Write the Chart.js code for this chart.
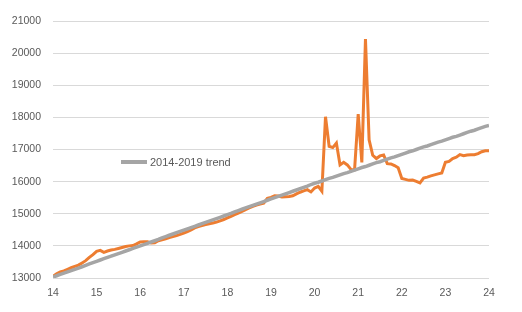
<!DOCTYPE html>
<html>
<head>
    <title>Trend chart</title>
    <script src="https://cdn.jsdelivr.net/npm/chart.js"></script>
    <style>
        body {
            margin: 0;
            background-color: #ffffff;
        }

        #wrap {
            position: relative;
            width: 522px;
            height: 312px;
        }

        #legend {
            position: absolute;
            left: 121px;
            top: 156px;
            font-family: "Liberation Sans", Arial, sans-serif;
            font-size: 11px;
            color: #595959;
            white-space: nowrap;
        }

        #legend span.swatch {
            display: inline-block;
            width: 26px;
            height: 4px;
            background-color: #a5a5a5;
            vertical-align: middle;
            margin-right: 3px;
            position: relative;
            top: -1px;
        }
    </style>
</head>
<body>
    <div id="wrap">
        <canvas id="lineChart" width="522" height="312"></canvas>
        <div id="legend"><span class="swatch"></span>2014-2019 trend</div>
    </div>

    <script>
        // monthly observations, Jan 2014 .. Jan 2024 (x axis shows year 14..24)
        const firstYear = 14;
        const lastYear = 24;

        const actual = [
            13050, 13130, 13190, 13220, 13270, 13320, 13360, 13400, 13470, 13540, 13640, 13730, // 2014
            13830, 13860, 13800, 13840, 13870, 13890, 13920, 13950, 13980, 14000, 14010, 14060, // 2015
            14120, 14130, 14130, 14090, 14100, 14160, 14190, 14220, 14260, 14290, 14320, 14360, // 2016
            14400, 14440, 14500, 14560, 14600, 14630, 14660, 14690, 14710, 14740, 14780, 14820, // 2017
            14870, 14920, 14970, 15020, 15070, 15130, 15180, 15230, 15270, 15300, 15330, 15480, // 2018
            15510, 15560, 15550, 15520, 15530, 15540, 15560, 15620, 15670, 15710, 15750, 15680, // 2019
            15800, 15850, 15700, 18020, 17100, 17060, 17200, 16520, 16600, 16520, 16380, 16370, // 2020
            18100, 16600, 20440, 17300, 16820, 16720, 16800, 16830, 16560, 16550, 16500, 16430, // 2021
            16100, 16070, 16040, 16050, 16010, 15960, 16110, 16140, 16180, 16210, 16240, 16270, // 2022
            16600, 16630, 16720, 16760, 16840, 16810, 16830, 16840, 16840, 16870, 16930, 16960, // 2023
            16960                                                                                // 2024
        ];

        const trend = [
            13030, 13070, 13110, 13150, 13190, 13230, 13270, 13310, 13350, 13390, 13440, 13480,
            13520, 13560, 13600, 13640, 13680, 13720, 13760, 13800, 13840, 13880, 13920, 13960,
            14000, 14040, 14080, 14120, 14160, 14200, 14250, 14290, 14330, 14370, 14410, 14450,
            14490, 14530, 14570, 14610, 14650, 14690, 14730, 14770, 14810, 14850, 14890, 14930,
            14970, 15010, 15060, 15100, 15140, 15180, 15220, 15260, 15300, 15340, 15380, 15420,
            15460, 15500, 15540, 15580, 15620, 15660, 15700, 15740, 15780, 15820, 15860, 15910,
            15950, 15980, 16020, 16060, 16100, 16130, 16170, 16210, 16250, 16280, 16320, 16360,
            16400, 16440, 16470, 16510, 16550, 16590, 16620, 16660, 16700, 16740, 16770, 16810,
            16850, 16890, 16930, 16960, 17000, 17040, 17080, 17110, 17150, 17190, 17230, 17260,
            17300, 17340, 17380, 17410, 17450, 17490, 17530, 17570, 17600, 17640, 17680, 17720,
            17750
        ];

        const yMin = 13000;
        const yMax = 21000;

        // x position of each monthly value, in years
        function toPoints(values) {
            return values.map((v, i) => ({ x: firstYear + i / 12, y: v }));
        }

        const tickFont = { family: '"Liberation Sans", Arial, sans-serif', size: 10.5 };

        const ctx = document.getElementById('lineChart').getContext('2d');
        new Chart(ctx, {
            type: 'line',
            data: {
                datasets: [{
                    label: 'Actual',
                    data: toPoints(actual),
                    borderColor: '#ed7d31',
                    borderWidth: 3,
                    pointRadius: 0,
                    tension: 0,
                    order: 2
                }, {
                    label: '2014-2019 trend',
                    data: toPoints(trend),
                    borderColor: '#a5a5a5',
                    borderWidth: 3.5,
                    pointRadius: 0,
                    tension: 0,
                    order: 1
                }]
            },
            options: {
                responsive: false,
                animation: false,
                devicePixelRatio: 1,
                layout: {
                    padding: { left: 0, right: 33, top: 21, bottom: 0 }
                },
                plugins: {
                    legend: { display: false },
                    tooltip: { enabled: false }
                },
                scales: {
                    x: {
                        type: 'linear',
                        min: firstYear,
                        max: lastYear,
                        ticks: {
                            stepSize: 1,
                            color: '#595959',
                            font: tickFont,
                            padding: 9,
                            maxRotation: 0
                        },
                        grid: { display: false, drawTicks: false },
                        border: { display: false },
                        afterFit: scale => { scale.height = 34; }
                    },
                    y: {
                        min: yMin,
                        max: yMax,
                        ticks: {
                            stepSize: 1000,
                            color: '#595959',
                            font: tickFont,
                            padding: 12,
                            callback: value => String(value)
                        },
                        grid: { color: '#d9d9d9', lineWidth: 1, drawTicks: false },
                        border: { display: false },
                        afterFit: scale => { scale.width = 53; }
                    }
                }
            }
        });
    </script>
</body>
</html>
